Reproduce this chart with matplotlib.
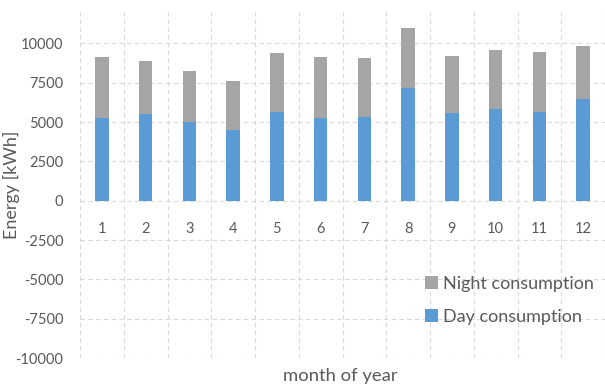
import matplotlib
matplotlib.use("Agg")
import matplotlib.pyplot as plt
import numpy as np

months = [1, 2, 3, 4, 5, 6, 7, 8, 9, 10, 11, 12]
day = [5260, 5540, 4990, 4480, 5620, 5260, 5330, 7160, 5560, 5810, 5620, 6440]
total = [9120, 8860, 8270, 7600, 9390, 9120, 9100, 10970, 9180, 9580, 9470, 9810]
night = [t - d for t, d in zip(total, day)]
yticks = [-10000, -7500, -5000, -2500, 0, 2500, 5000, 7500, 10000]

plt.rcParams['font.family'] = ['Lato', 'DejaVu Sans']

fig = plt.figure(figsize=(6.05, 3.85), dpi=100)
ax = fig.add_axes([80/605, 27/385, 525/605, 346/385])

blue = '#5B9BD5'
gray = '#A5A5A5'
ax.bar(months, day, width=0.31, color=blue, label='Day consumption', zorder=3)
ax.bar(months, night, width=0.31, bottom=day, color=gray, label='Night consumption', zorder=3)

ax.set_xlim(0.5, 12.5)
ax.set_ylim(-10000, 12000)
ax.set_yticks(yticks)
ax.set_yticklabels([str(v) for v in yticks])
ax.set_xticks(months)
ax.set_xticks(np.arange(0.5, 13, 1.0), minor=True)

for s in ax.spines.values():
    s.set_visible(False)
ax.spines['bottom'].set_position(('data', 0))

ax.grid(axis='y', which='major', linestyle=(0, (4, 3)), color='#D9D9D9', linewidth=0.8, zorder=0)
ax.grid(axis='x', which='minor', linestyle=(0, (4, 3)), color='#D9D9D9', linewidth=0.8, zorder=0)
ax.tick_params(axis='both', which='both', length=0)
ax.tick_params(axis='x', which='major', pad=15, labelsize=10.5, labelcolor='#595959')
ax.tick_params(axis='y', labelsize=10.5, labelcolor='#595959', pad=12)

ax.set_ylabel('Energy [kWh]', fontsize=13, color='#595959')
ax.yaxis.set_label_coords((20 - 80) / 525, 0.5)
fig.text(340/605, 1 - 376/385, 'month of year', ha='center', va='center', fontsize=13.3, color='#595959')

handles, labels = ax.get_legend_handles_labels()
leg = ax.legend(handles[::-1], labels[::-1], loc='lower right', bbox_to_anchor=(1.0, 0.065),
                frameon=False, fontsize=13, handlelength=0.7, handleheight=0.7,
                handletextpad=0.3, labelspacing=0.95, borderaxespad=0.2)
for t in leg.get_texts():
    t.set_color('#595959')

fig.savefig('out.png', dpi=100)
